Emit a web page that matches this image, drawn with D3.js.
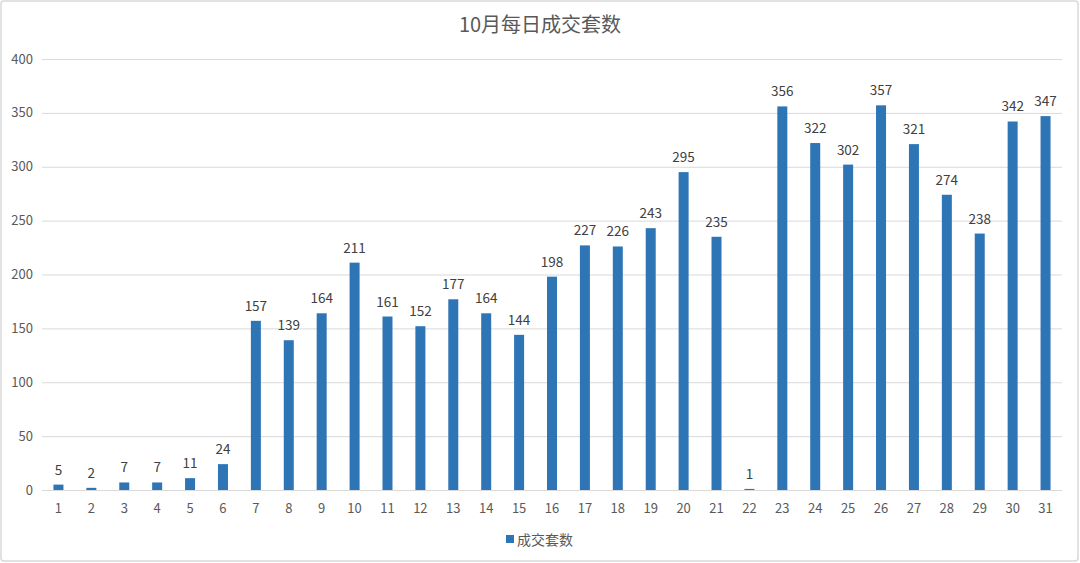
<!DOCTYPE html>
<html><head><meta charset="utf-8">
<script src="https://cdn.jsdelivr.net/npm/d3@7"></script>
<style>html,body{margin:0;padding:0;background:#fff;}svg{display:block;}</style>
</head><body>
<script>
const days = ["1","2","3","4","5","6","7","8","9","10","11","12","13","14","15","16","17","18","19","20","21","22","23","24","25","26","27","28","29","30","31"];
const counts = [5,2,7,7,11,24,157,139,164,211,161,152,177,164,144,198,227,226,243,295,235,1,356,322,302,357,321,274,238,342,347];
const yTicks = [0,50,100,150,200,250,300,350,400];
const titleText = "10月每日成交套数";
const seriesName = "成交套数";

const W = 1080, H = 563;
const font = "'Microsoft YaHei','Noto Sans CJK SC','DejaVu Sans',sans-serif";
const grey = "#595959";
const blue = "#2E75B6";
const svg = d3.select("body").append("svg").attr("width", W).attr("height", H);

svg.append("rect").attr("x",1).attr("y",1).attr("width",W-3).attr("height",H-3)
  .attr("rx",3).attr("fill","#fff").attr("stroke","#D9D9D9").attr("stroke-width",1.5);

const pLeft = 42, pRight = 1062, pTop = 59, pBottom = 490;
const x = d3.scaleBand().domain(days).range([pLeft, pRight]).paddingInner(0).paddingOuter(0);
const y = d3.scaleLinear().domain([0,400]).range([pBottom, pTop]);

// gridlines
svg.append("g").selectAll("line").data(yTicks.filter(d=>d>0)).join("line")
  .attr("x1", pLeft).attr("x2", pRight)
  .attr("y1", d=>y(d)+0.5).attr("y2", d=>y(d)+0.5)
  .attr("stroke","#D9D9D9").attr("stroke-width",1);

// y labels
svg.append("g").selectAll("text").data(yTicks).join("text")
  .attr("x", 33).attr("y", d=>y(d)+4.5).attr("text-anchor","end")
  .attr("font-family", font).attr("font-size", 13).attr("fill", grey)
  .text(d=>d);

const bw = 10;
svg.append("g").selectAll("rect").data(counts).join("rect")
  .attr("x", (d,i)=>x(days[i]) + x.bandwidth()/2 - bw/2)
  .attr("y", d=>y(d))
  .attr("width", bw)
  .attr("height", d=>y(0)-y(d))
  .attr("fill", blue);

// baseline
svg.append("line").attr("x1",pLeft).attr("x2",pRight)
  .attr("y1",pBottom+0.5).attr("y2",pBottom+0.5).attr("stroke","#D9D9D9").attr("stroke-width",1);

// data labels
svg.append("g").selectAll("text").data(counts).join("text")
  .attr("x", (d,i)=>x(days[i]) + x.bandwidth()/2)
  .attr("y", d=>y(d)-10)
  .attr("text-anchor","middle")
  .attr("font-family", font).attr("font-size", 13.5).attr("fill", "#404040")
  .text(d=>d);

// x labels
svg.append("g").selectAll("text").data(days).join("text")
  .attr("x", d=>x(d)+x.bandwidth()/2)
  .attr("y", 512.5)
  .attr("text-anchor","middle")
  .attr("font-family", font).attr("font-size", 13).attr("fill", grey)
  .text(d=>d);

// title
svg.append("text").attr("x", W/2).attr("y", 32).attr("text-anchor","middle")
  .attr("font-family", font).attr("font-size", 20).attr("fill", grey)
  .text(titleText);

// legend
const lg = svg.append("g");
lg.append("rect").attr("x",506).attr("y",535).attr("width",8).attr("height",8).attr("fill",blue);
lg.append("text").attr("x",517).attr("y",545).attr("font-family",font).attr("font-size",14)
  .attr("fill",grey).text(seriesName);
</script>
</body></html>
